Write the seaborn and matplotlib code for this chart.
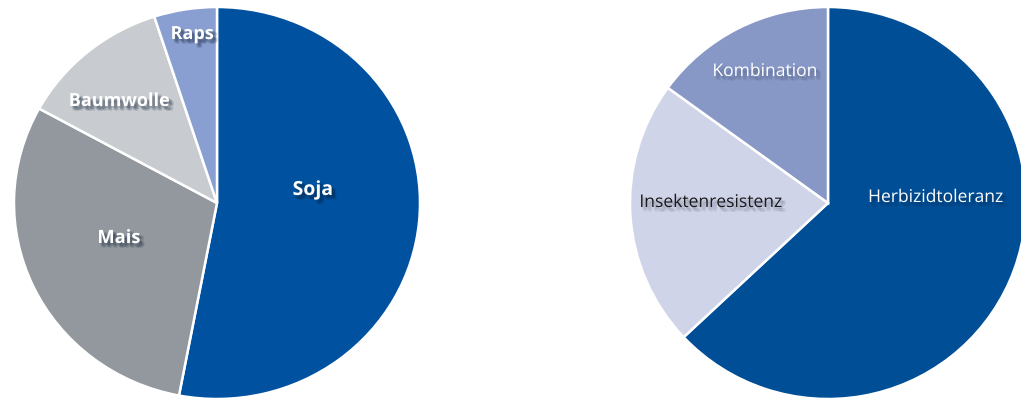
import matplotlib
matplotlib.use("Agg")
import matplotlib.pyplot as plt
import matplotlib.patheffects as pe
import seaborn as sns

sns.set_theme(style="white")
plt.rcParams['font.family'] = ['Open Sans', 'DejaVu Sans']

# Left pie: crops
crop_labels = ["Soja", "Mais", "Baumwolle", "Raps"]
crop_values = [53, 30, 12, 5]
crop_colors = ["#0052a0", "#92989e", "#c8ccd0", "#8a9fd1"]

# Right pie: traits
trait_labels = ["Herbizidtoleranz", "Insektenresistenz", "Kombination"]
trait_values = [63, 22, 15]
trait_colors = ["#004e96", "#d0d4e8", "#8898c6"]
trait_text_colors = ["white", "#1a1a1a", "white"]

W, H = 1021, 401
fig = plt.figure(figsize=(W / 100, H / 100), dpi=100)
fig.patch.set_facecolor("white")

def px_axes(cx, cy, rx, ry):
    return fig.add_axes([(cx - rx) / W, (H - cy - ry) / H, 2 * rx / W, 2 * ry / H])

def soft_shadow(strength=0.09):
    effs = []
    for dx, dy in [(1, -1.5), (2, -2.5), (3, -3.5), (2.5, -1.5), (1.5, -3), (3.5, -2.5)]:
        effs.append(pe.SimplePatchShadow(offset=(dx, dy), shadow_rgbFace="#0a1a30", alpha=strength))
    effs.append(pe.Normal())
    return effs

# Left
cxL, cyL, rxL, ryL = 217, 203, 203, 196
axL = px_axes(cxL, cyL, rxL, ryL)
axL.pie(crop_values, colors=crop_colors, startangle=90, counterclock=False,
        wedgeprops=dict(edgecolor="white", linewidth=1.8), radius=1)
axL.set_xlim(-1, 1); axL.set_ylim(-1, 1); axL.set_aspect("auto"); axL.axis("off")
crop_text_px = [(313, 190), (119, 238), (119, 101), (192, 34)]
crop_sizes = [14, 13.2, 13, 13]
for lab, (px, py), fs in zip(crop_labels, crop_text_px, crop_sizes):
    axL.text((px - cxL) / rxL, (cyL - py) / ryL, lab, ha="center", va="center",
             color="white", fontsize=fs, fontweight="bold", path_effects=soft_shadow(0.12))

# Right
cxR, cyR, rxR, ryR = 828, 203, 198, 196
axR = px_axes(cxR, cyR, rxR, ryR)
axR.pie(trait_values, colors=trait_colors, startangle=90, counterclock=False,
        wedgeprops=dict(edgecolor="white", linewidth=1.8), radius=1)
axR.set_xlim(-1, 1); axR.set_ylim(-1, 1); axR.set_aspect("auto"); axR.axis("off")
trait_text_px = [(936, 198), (711, 203), (765, 72)]
for lab, (px, py), tc in zip(trait_labels, trait_text_px, trait_text_colors):
    axR.text((px - cxR) / rxR, (cyR - py) / ryR, lab, ha="center", va="center",
             color=tc, fontsize=12.6, path_effects=soft_shadow(0.07))

fig.savefig("out.png", dpi=100, facecolor="white")
